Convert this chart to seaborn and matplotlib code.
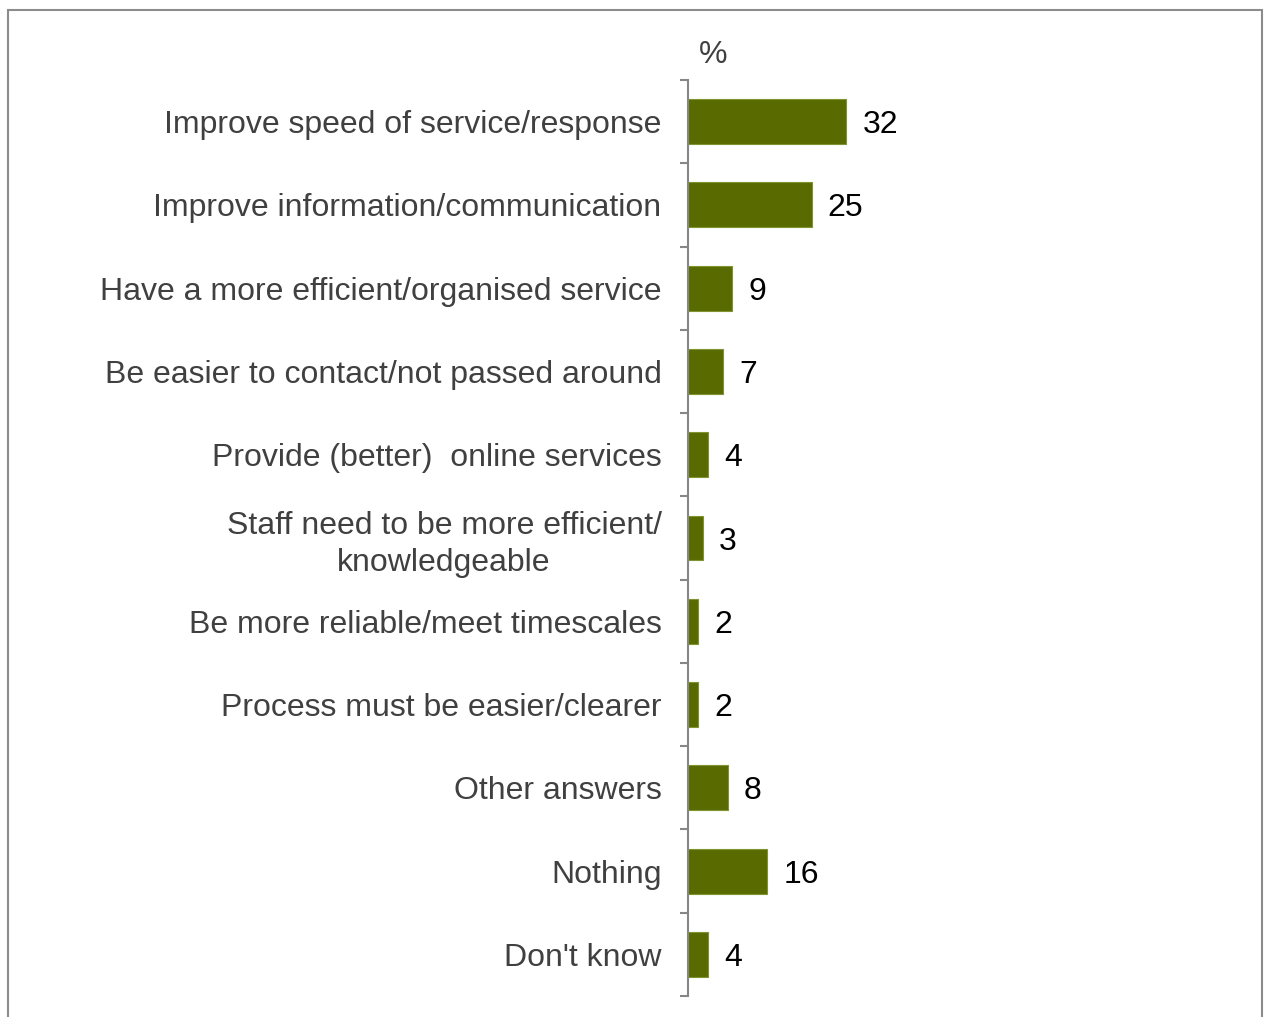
import pandas as pd
import matplotlib.pyplot as plt
import seaborn as sns
from matplotlib.patches import Rectangle

categories = ["Improve speed of service/response",
              "Improve information/communication",
              "Have a more efficient/organised service",
              "Be easier to contact/not passed around",
              "Provide (better)  online services",
              "Staff need to be more efficient/\nknowledgeable",
              "Be more reliable/meet timescales",
              "Process must be easier/clearer",
              "Other answers",
              "Nothing",
              "Don't know"]
values = [32, 25, 9, 7, 4, 3, 2, 2, 8, 16, 4]

df = pd.DataFrame({"answer": categories, "pct": values})

sns.set_style("white")
plt.rcParams['font.family'] = ['Liberation Sans', 'DejaVu Sans']

W, H = 1266, 1017
fig = plt.figure(figsize=(W / 100, H / 100), dpi=100)
ax = fig.add_axes([688 / W, 1 - 996 / H, 500 / W, (996 - 80) / H])

sns.barplot(data=df, x="pct", y="answer", orient="h", color="#596b00",
            saturation=1, width=0.54, edgecolor="#7f9330", linewidth=0.8, ax=ax)

ax.set_xlim(0, 101.2)
ax.set_ylim(10.5, -0.5)
for i, v in enumerate(values):
    ax.text(v + 3.3, i, str(v), va="center_baseline", ha="left", fontsize=23, color="black")

for s in ["top", "right", "bottom"]:
    ax.spines[s].set_visible(False)
ax.spines["left"].set_color("#868686")
ax.spines["left"].set_linewidth(1.5)
ax.set_xticks([])
ax.set_xlabel("")
ax.set_ylabel("")
ax.set_yticks(range(len(categories)))
ax.set_yticklabels(categories, fontsize=23, color="#404040", multialignment="center",
                   linespacing=1.3)
ax.tick_params(axis="y", which="major", left=False, length=0, pad=19)
ax.set_yticks([i - 0.5 for i in range(len(categories) + 1)], minor=True)
ax.tick_params(axis="y", which="minor", left=True, length=6, width=1.5, color="#868686")

ax.text(0.05, 1.027, "%", transform=ax.transAxes, ha="center", va="center",
        fontsize=23, color="#404040")

fig.patches.append(Rectangle((8 / W, -0.05), (1262 - 8) / W, 1 - 10 / H + 0.05,
                             transform=fig.transFigure, fill=False,
                             edgecolor="#8c8c8c", linewidth=1.5))

fig.savefig("out.png", dpi=100)
